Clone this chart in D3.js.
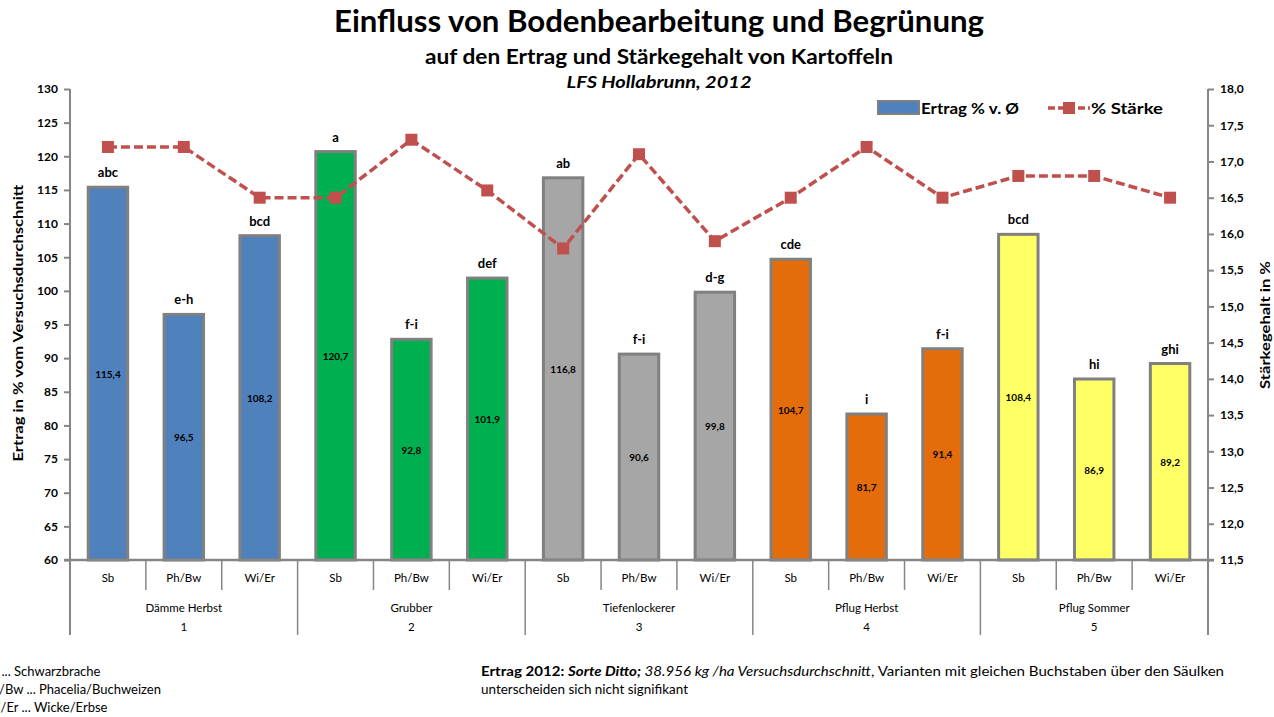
<!DOCTYPE html>
<html>
<head>
<meta charset="utf-8">
<script src="https://cdn.jsdelivr.net/npm/d3@7"></script>
<style>
  body { margin: 0; background: #fff; }
  text { font-family: "Lato", "Open Sans", sans-serif; fill: #000; }
</style>
</head>
<body>
<svg id="chart" width="1274" height="717"></svg>
<script>
// data
var subLabels = ["Sb", "Ph/Bw", "Wi/Er"];
var groups = ["Dämme Herbst", "Grubber", "Tiefenlockerer", "Pflug Herbst", "Pflug Sommer"];
var groupNums = ["1", "2", "3", "4", "5"];
var groupColors = ["#4F81BD", "#00B050", "#A6A6A6", "#E46C0A", "#FFFF66"];
var ertrag = [115.4, 96.5, 108.2, 120.7, 92.8, 101.9, 116.8, 90.6, 99.8, 104.7, 81.7, 91.4, 108.4, 86.9, 89.2];
var staerke = [17.2, 17.2, 16.5, 16.5, 17.3, 16.6, 15.8, 17.1, 15.9, 16.5, 17.2, 16.5, 16.8, 16.8, 16.5];
var letters = ["abc", "e-h", "bcd", "a", "f-i", "def", "ab", "f-i", "d-g", "cde", "i", "f-i", "bcd", "hi", "ghi"];
var footLeft = ["Sb ... Schwarzbrache", "Ph/Bw ... Phacelia/Buchweizen", "Wi/Er ... Wicke/Erbse"];

var margin = { top: 89, right: 66, bottom: 157, left: 70 };
var width = 1274 - margin.left - margin.right;
var height = 717 - margin.top - margin.bottom;

var rows = [];
groups.forEach(function(g, gi) {
  subLabels.forEach(function(s, si) {
    var i = gi * 3 + si;
    rows.push({ id: i, group: gi, sub: s, ertrag: ertrag[i], staerke: staerke[i], letter: letters[i] });
  });
});

var svg = d3.select("#chart");
var g = svg.append("g").attr("transform", "translate(" + margin.left + "," + margin.top + ")");

var x = d3.scaleBand().domain(rows.map(function(d) { return d.id; })).range([0, width]).paddingInner(0.48).paddingOuter(0.24);
var xStep = d3.scaleBand().domain(rows.map(function(d) { return d.id; })).range([0, width]);
var y = d3.scaleLinear().domain([60, 130]).range([height, 0]);
var y2 = d3.scaleLinear().domain([11.5, 18]).range([height, 0]);

var axisGrey = "#868686";

// titles
svg.append("text").attr("x", 659).attr("y", 32).attr("text-anchor", "middle")
  .attr("textLength", 650).attr("lengthAdjust", "spacingAndGlyphs")
  .style("font-size", "30px").style("font-weight", "bold").text("Einfluss von Bodenbearbeitung und Begrünung");
svg.append("text").attr("x", 659).attr("y", 64).attr("text-anchor", "middle")
  .attr("textLength", 468).attr("lengthAdjust", "spacingAndGlyphs")
  .style("font-size", "21px").style("font-weight", "bold").text("auf den Ertrag und Stärkegehalt von Kartoffeln");
svg.append("text").attr("x", 659).attr("y", 88).attr("text-anchor", "middle")
  .attr("textLength", 185).attr("lengthAdjust", "spacingAndGlyphs")
  .style("font-size", "17px").style("font-weight", "bold").style("font-style", "italic").text("LFS Hollabrunn, 2012");

// left axis
var yAxis = g.append("g").call(d3.axisLeft(y).tickValues(d3.range(60, 131, 5)).tickSize(6).tickPadding(6));
yAxis.select(".domain").remove();
yAxis.selectAll("line").attr("stroke", axisGrey).attr("stroke-width", 2);
yAxis.selectAll("text").style("font-size", "12px").style("font-weight", "bold").style("font-family", "Lato, sans-serif");

// right axis
var yAxis2 = g.append("g").attr("transform", "translate(" + width + ",0)")
  .call(d3.axisRight(y2).tickValues(d3.range(11.5, 18.01, 0.5)).tickSize(6).tickPadding(6)
    .tickFormat(function(d) { return d3.format(".1f")(d).replace(".", ","); }));
yAxis2.select(".domain").remove();
yAxis2.selectAll("line").attr("stroke", axisGrey).attr("stroke-width", 2);
yAxis2.selectAll("text").style("font-size", "12px").style("font-weight", "bold");

// vertical axis lines (extend down through category area)
g.append("line").attr("x1", 0).attr("x2", 0).attr("y1", 0).attr("y2", height + 75)
  .attr("stroke", axisGrey).attr("stroke-width", 2);
g.append("line").attr("x1", width).attr("x2", width).attr("y1", 0).attr("y2", height + 75)
  .attr("stroke", axisGrey).attr("stroke-width", 2);

// axis titles
svg.append("text").attr("transform", "translate(23,323) rotate(-90)")
  .attr("text-anchor", "middle").attr("textLength", 277).attr("lengthAdjust", "spacingAndGlyphs")
  .style("font-size", "14px").style("font-weight", "bold")
  .text("Ertrag in % vom Versuchsdurchschnitt");
svg.append("text").attr("transform", "translate(1270,325) rotate(-90)")
  .attr("text-anchor", "middle").attr("textLength", 128).attr("lengthAdjust", "spacingAndGlyphs")
  .style("font-size", "14px").style("font-weight", "bold")
  .text("Stärkegehalt in %");

// bars
g.selectAll("rect.bar").data(rows).enter().append("rect")
  .attr("class", "bar")
  .attr("x", function(d) { return x(d.id); })
  .attr("y", function(d) { return y(d.ertrag); })
  .attr("width", x.bandwidth())
  .attr("height", function(d) { return y(60) - y(d.ertrag); })
  .attr("fill", function(d) { return groupColors[d.group]; })
  .attr("stroke", "#808080").attr("stroke-width", 3);

// value labels inside bars
g.selectAll("text.val").data(rows).enter().append("text")
  .attr("x", function(d) { return x(d.id) + x.bandwidth() / 2; })
  .attr("y", function(d) { return (y(d.ertrag) + y(60)) / 2 + 4; })
  .attr("text-anchor", "middle").style("font-size", "10px").style("font-weight", "bold")
  .text(function(d) { return d3.format(".1f")(d.ertrag).replace(".", ","); });

// letter labels above bars
g.selectAll("text.let").data(rows).enter().append("text")
  .attr("x", function(d) { return x(d.id) + x.bandwidth() / 2; })
  .attr("y", function(d) { return y(d.ertrag) - 10; })
  .attr("text-anchor", "middle").style("font-size", "13px").style("font-weight", "bold")
  .text(function(d) { return d.letter; });

// baseline
g.append("line").attr("x1", -6).attr("x2", width + 6).attr("y1", height).attr("y2", height)
  .attr("stroke", axisGrey).attr("stroke-width", 2.5);

// category dividers
rows.forEach(function(d, i) {
  if (i === 0) return;
  var xx = xStep(d.id);
  var isGroup = i % 3 === 0;
  g.append("line").attr("x1", xx).attr("x2", xx).attr("y1", height).attr("y2", height + (isGroup ? 75 : 30))
    .attr("stroke", axisGrey).attr("stroke-width", 1.5);
});

// sub labels
g.selectAll("text.sub").data(rows).enter().append("text")
  .attr("x", function(d) { return xStep(d.id) + xStep.bandwidth() / 2; })
  .attr("y", height + 22)
  .attr("text-anchor", "middle").style("font-size", "11.5px").text(function(d) { return d.sub; });

// group labels
groups.forEach(function(name, gi) {
  var cx = xStep(gi * 3) + xStep.bandwidth() * 1.5;
  g.append("text").attr("x", cx).attr("y", height + 52).attr("text-anchor", "middle")
    .style("font-size", "11.5px").text(name);
  g.append("text").attr("x", cx).attr("y", height + 71).attr("text-anchor", "middle")
    .style("font-size", "11.5px").text(groupNums[gi]);
});

// starch line
var line = d3.line()
  .x(function(d) { return x(d.id) + x.bandwidth() / 2; })
  .y(function(d) { return y2(d.staerke); });
g.append("path").datum(rows).attr("d", line).attr("fill", "none")
  .attr("stroke", "#C0504D").attr("stroke-width", 3.5).attr("stroke-dasharray", "9,4");
g.selectAll("rect.mk").data(rows).enter().append("rect")
  .attr("x", function(d) { return x(d.id) + x.bandwidth() / 2 - 6; })
  .attr("y", function(d) { return y2(d.staerke) - 6; })
  .attr("width", 12).attr("height", 12).attr("fill", "#C0504D");

// legend
var lg = svg.append("g").attr("transform", "translate(878,101)");
lg.append("rect").attr("x", 0).attr("y", 0).attr("width", 41).attr("height", 13)
  .attr("fill", groupColors[0]).attr("stroke", "#808080").attr("stroke-width", 2);
lg.append("text").attr("x", 43).attr("y", 13).attr("textLength", 98).attr("lengthAdjust", "spacingAndGlyphs")
  .style("font-size", "16px").style("font-weight", "bold").text("Ertrag % v. Ø");
lg.append("line").attr("x1", 170).attr("x2", 212).attr("y1", 7).attr("y2", 7)
  .attr("stroke", "#C0504D").attr("stroke-width", 3.5).attr("stroke-dasharray", "7,3");
lg.append("rect").attr("x", 185).attr("y", 1).attr("width", 12).attr("height", 12).attr("fill", "#C0504D");
lg.append("text").attr("x", 213).attr("y", 13).attr("textLength", 72).attr("lengthAdjust", "spacingAndGlyphs")
  .style("font-size", "16px").style("font-weight", "bold").text("% Stärke");

// footnotes
footLeft.forEach(function(t, i) {
  svg.append("text").attr("x", -16).attr("y", 676 + i * 18)
    .style("font-size", "13px").text(t);
});
var fr = svg.append("text").attr("x", 481).attr("y", 676).attr("textLength", 743).attr("lengthAdjust", "spacingAndGlyphs")
  .style("font-size", "13.5px");
fr.append("tspan").style("font-weight", "bold").text("Ertrag 2012: ");
fr.append("tspan").style("font-weight", "bold").style("font-style", "italic").text("Sorte Ditto;");
fr.append("tspan").style("font-style", "italic").text("  38.956 kg /ha Versuchsdurchschnitt");
fr.append("tspan").text(", Varianten mit gleichen Buchstaben über den Säulken");
svg.append("text").attr("x", 481).attr("y", 694).attr("textLength", 207).attr("lengthAdjust", "spacingAndGlyphs")
  .style("font-size", "13.5px").text("unterscheiden sich nicht signifikant");
</script>
</body>
</html>
